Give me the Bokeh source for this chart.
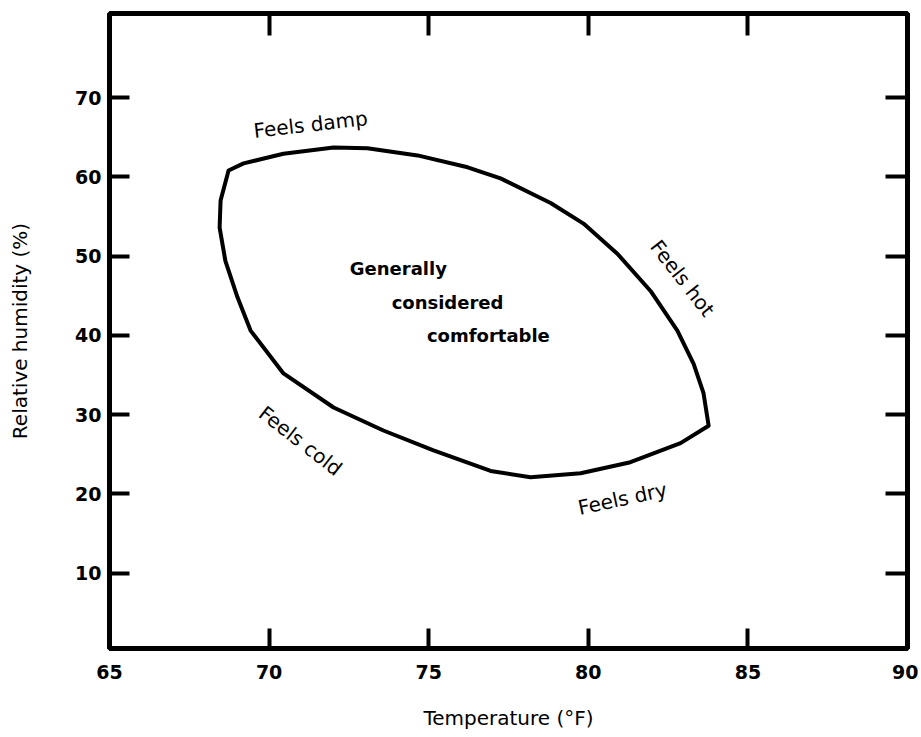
from bokeh.plotting import figure
from bokeh.models import LinearAxis, FixedTicker, Range1d, ColumnDataSource
from bokeh.core.properties import value
from bokeh.embed import file_html
from bokeh.resources import INLINE

# ---- data ----
comfort_temp = [68.73, 69.20, 70.45, 72.02, 73.08, 74.65, 76.22, 77.25, 78.82, 79.85,
                80.91, 81.95, 82.79, 83.30, 83.61, 83.77, 82.89, 81.32, 79.76, 78.19,
                76.94, 75.15, 73.58, 72.02, 70.45, 69.42, 69.01, 68.63, 68.45, 68.48, 68.73]
comfort_rh = [60.8, 61.7, 62.9, 63.7, 63.6, 62.7, 61.2, 59.8, 56.7, 54.1,
              50.3, 45.6, 40.6, 36.4, 32.7, 28.6, 26.4, 24.0, 22.6, 22.1,
              22.9, 25.5, 28.0, 30.9, 35.2, 40.6, 44.8, 49.4, 53.6, 57.0, 60.8]

x_ticks = [65, 70, 75, 80, 85, 90]
y_ticks = [10, 20, 30, 40, 50, 60, 70]

edge_labels = ["Feels damp", "Feels hot", "Feels cold", "Feels dry"]
edge_x = [71.30, 82.95, 70.98, 81.07]
edge_y = [66.6, 47.2, 26.7, 19.4]
edge_angle = [6.5, -52, -38, 12]

center_labels = ["Generally", "considered", "comfortable"]
center_x = [74.05, 75.59, 76.87]
center_y = [48.4, 44.1, 40.0]

FONT = "DejaVu Sans"

p = figure(frame_width=798, frame_height=635,
           x_range=Range1d(65, 90), y_range=Range1d(0.5, 80.6),
           output_backend="svg", toolbar_location=None,
           min_border_left=109, min_border_right=11,
           min_border_top=13, min_border_bottom=80,
           background_fill_color="white", border_fill_color="white")
p.grid.visible = False
p.outline_line_color = "black"
p.outline_line_width = 5

# main axes
for ax in (p.xaxis[0], p.yaxis[0]):
    ax.axis_line_color = None
    ax.major_tick_in = 20
    ax.major_tick_out = 0
    ax.major_tick_line_width = 4
    ax.minor_tick_line_color = None
    ax.major_label_text_font = FONT
    ax.major_label_text_font_style = "bold"
    ax.major_label_text_font_size = "19px"
    ax.major_label_text_color = "black"
    ax.axis_label_text_font = FONT
    ax.axis_label_text_font_style = "normal"
    ax.axis_label_text_font_size = "20px"
    ax.axis_label_text_color = "black"

p.xaxis[0].ticker = FixedTicker(ticks=x_ticks)
p.yaxis[0].ticker = FixedTicker(ticks=y_ticks)
p.xaxis[0].axis_label = "Temperature (°F)"
p.yaxis[0].axis_label = "Relative humidity (%)"
p.xaxis[0].major_label_standoff = 16
p.yaxis[0].major_label_standoff = 8
p.xaxis[0].axis_label_standoff = 24
p.yaxis[0].axis_label_standoff = 40

# top and right tick-only axes
top = LinearAxis(ticker=FixedTicker(ticks=x_ticks[1:-1]))
right = LinearAxis(ticker=FixedTicker(ticks=y_ticks))
for ax, t in ((top, x_ticks[1:-1]), (right, y_ticks)):
    ax.axis_line_color = None
    ax.major_tick_in = 22
    ax.major_tick_out = 0
    ax.major_tick_line_width = 4
    ax.minor_tick_line_color = None
    ax.major_label_overrides = {v: "" for v in t}
    ax.major_label_text_font_size = "1px"
    ax.major_label_standoff = 0
p.add_layout(top, "above")
p.add_layout(right, "right")

# comfort zone outline
p.line(comfort_temp, comfort_rh, line_color="black", line_width=4,
       line_join="round", line_cap="round")

# edge labels
src_edge = ColumnDataSource(dict(x=edge_x, y=edge_y, t=edge_labels, a=edge_angle))
p.text(x="x", y="y", text="t", angle="a", angle_units="deg", source=src_edge,
       text_font=value(FONT), text_font_size="20px", text_color="black",
       text_align="center", text_baseline="middle")

# center labels
src_c = ColumnDataSource(dict(x=center_x, y=center_y, t=center_labels))
p.text(x="x", y="y", text="t", source=src_c,
       text_font=value(FONT), text_font_style="bold", text_font_size="18px",
       text_color="black", text_align="center", text_baseline="middle")

open("out.html", "w").write(file_html(p, INLINE))
